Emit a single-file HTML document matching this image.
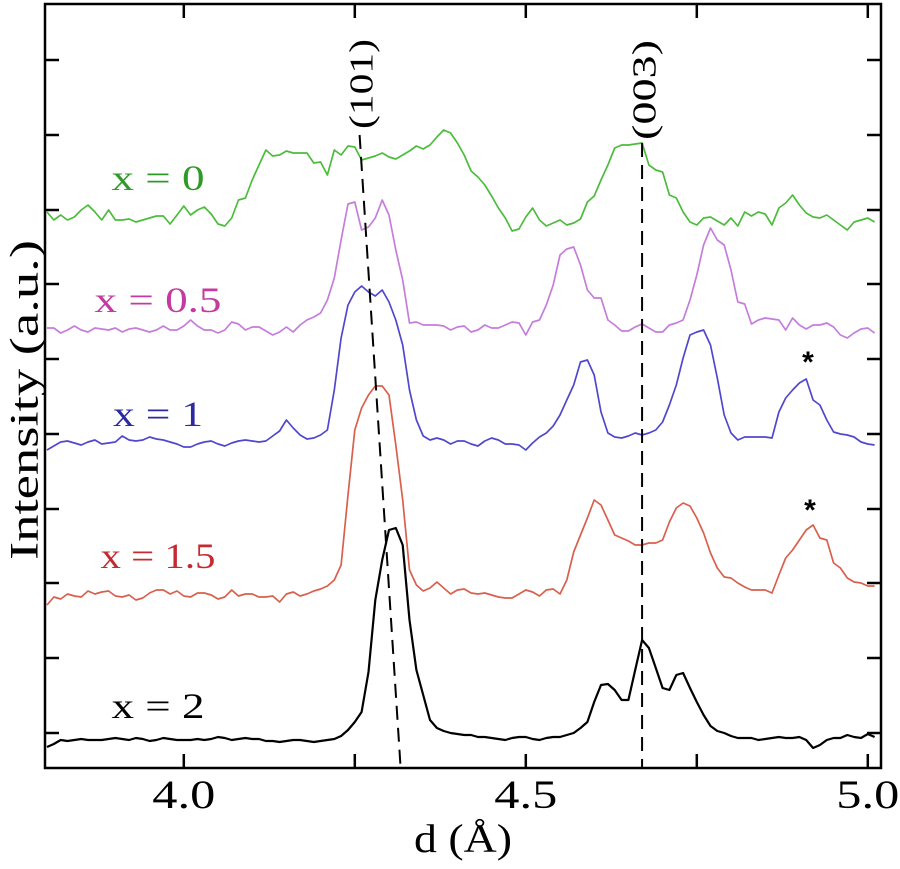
<!DOCTYPE html>
<html><head><meta charset="utf-8"><style>
html,body{margin:0;padding:0;background:#fff;}
svg{display:block;font-family:"Liberation Serif",serif;}
</style></head><body>
<svg id="chart" width="900" height="869" viewBox="0 0 900 869">
<g id="plot"></g>
</svg>
<script>
const dValues = [];
for (let i = 0; i < 122; i++) dValues.push(+(3.80 + i * 0.01).toFixed(2));
const xTicks = [4.0, 4.25, 4.5, 4.75, 5.0];
const xTickLabels = ["4.0", "", "4.5", "", "5.0"];
const yTicks = [35, 110, 185, 259, 334, 409, 484, 558, 633, 708];
const seriesNames = ["x = 0", "x = 0.5", "x = 1", "x = 1.5", "x = 2"];
const seriesX0 = [556,548,553,548,551,558,563,556,548,558,548,548,549,546,548,550,552,552,544,553,562,553,558,561,554,544,542,550,568,570,588,603,618,612,613,617,615,615,615,605,606,593,618,613,622,621,608,610,612,615,611,609,613,617,622,619,623,631,638,635,625,613,597,591,583,572,560,550,537,539,551,560,548,542,545,548,543,545,549,566,572,588,603,620,623,623,624,625,603,598,596,573,570,556,546,543,550,551,547,543,550,542,556,552,556,554,543,560,565,573,563,555,551,550,553,548,543,538,546,548,550,546];
const seriesX05 = [440,440,435,438,442,438,436,440,439,438,440,436,439,440,438,436,438,442,438,438,442,448,442,438,438,435,438,446,444,438,441,441,437,433,436,441,436,443,448,451,455,468,490,528,564,566,538,541,550,568,553,518,488,445,446,443,443,443,442,438,441,442,436,438,443,440,440,443,446,445,433,446,448,463,483,513,519,521,503,478,470,470,448,443,437,437,441,444,440,436,436,443,445,448,468,493,523,540,528,523,498,466,464,444,448,450,449,448,438,450,443,439,443,443,445,441,433,430,435,439,440,435];
const seriesX1 = [318,322,326,327,325,323,326,328,324,325,326,332,328,327,328,331,329,328,326,324,321,321,324,326,327,324,322,325,327,328,327,326,327,332,337,348,340,333,329,330,333,338,378,430,463,476,482,476,472,478,466,448,423,378,348,332,328,330,328,324,327,327,324,322,327,330,328,324,324,323,318,325,331,335,342,353,368,383,406,408,393,356,335,331,330,332,335,333,335,338,346,363,383,410,433,436,438,423,390,353,335,328,331,331,331,331,330,356,370,378,385,389,368,363,348,336,334,333,331,326,324,323];
const seriesX15 = [163,171,169,174,172,171,177,174,176,177,172,171,173,168,170,175,178,178,174,177,172,171,175,175,173,169,171,178,172,174,174,171,171,172,166,174,176,172,174,177,179,182,188,203,273,338,360,373,382,382,373,323,268,198,183,177,180,186,180,174,178,179,175,174,175,173,171,170,170,174,178,176,172,178,179,174,188,216,233,250,268,263,248,233,230,227,223,223,225,225,228,246,260,265,262,250,235,215,200,191,190,185,181,178,178,178,175,193,210,218,228,238,243,230,228,205,200,190,186,185,182,182];
const seriesX2 = [21,24,28,27,28,29,28,28,28,29,30,29,28,30,29,27,28,30,29,28,28,28,29,28,29,31,30,28,29,30,29,29,27,27,26,27,28,28,27,26,27,28,29,32,38,46,56,96,168,208,238,240,223,148,98,73,48,40,37,35,34,33,33,31,31,30,29,28,30,31,31,29,28,30,31,31,33,35,40,46,66,83,84,78,68,68,98,128,120,100,80,78,93,95,80,66,53,42,37,35,32,30,30,30,28,29,30,31,30,30,31,28,20,23,28,30,30,33,31,30,34,31];
const guide101 = [[4.257, 633], [4.317, 0]];
const guide003 = [[4.670, 625], [4.670, 0]];

const L = 45, R = 881, T = 4, B = 768;
function xs(d) { return 47 + (d - 3.80) * 684; }
function ys(v) { return 768 - v; }

const NS = "http://www.w3.org/2000/svg";
const svg = document.getElementById('chart');
const plot = document.getElementById('plot');
function mk(tag, attrs, parent) {
  const e = document.createElementNS(NS, tag);
  for (const k in attrs) e.setAttribute(k, attrs[k]);
  (parent || svg).appendChild(e);
  return e;
}

const series = [
  {v: seriesX0, c: "#4cbc3c", lc: "#2f9a2a", name: "series-x0", lx: 158, ly: 190, w: 93},
  {v: seriesX05, c: "#c57ddc", lc: "#c43aa0", name: "series-x05", lx: 158, ly: 312, w: 127},
  {v: seriesX1, c: "#5048cc", lc: "#2c2aa2", name: "series-x1", lx: 158, ly: 426, w: 90},
  {v: seriesX15, c: "#d8604c", lc: "#c42a30", name: "series-x15", lx: 158, ly: 568, w: 115},
  {v: seriesX2, c: "#000000", lc: "#000000", name: "series-x2", lx: 158, ly: 718, w: 93}
];
series.forEach((s, si) => {
  let d = "";
  s.v.forEach((val, i) => { d += (i ? "L" : "M") + xs(dValues[i]).toFixed(1) + "," + ys(val).toFixed(1); });
  const p = mk('path', {d: d, fill: "none", stroke: s.c, "stroke-width": si === 4 ? 2.2 : 1.7, "stroke-linejoin": "round"}, plot);
  
  
  const t = mk('text', {x: s.lx, y: s.ly, "text-anchor": "middle", "font-size": 36, fill: s.lc, textLength: s.w, lengthAdjust: "spacingAndGlyphs"});
  t.textContent = seriesNames[si];
  
  
});

[guide101, guide003].forEach((g, gi) => {
  const l = mk('line', {x1: xs(g[0][0]), y1: ys(g[0][1]), x2: xs(g[1][0]), y2: ys(g[1][1]), stroke: "#000", "stroke-width": 2, "stroke-dasharray": "14,8"}, plot);
  
  
});
[["(101)", 362, 84, 90], ["(003)", 645, 90, 100]].forEach(a => {
  const t = mk('text', {x: a[1], y: a[2], "text-anchor": "middle", "dominant-baseline": "central", "font-size": 34, textLength: a[3], lengthAdjust: "spacingAndGlyphs", transform: "rotate(-90 " + a[1] + " " + a[2] + ")"});
  t.textContent = a[0];
  
  
});
[[808, 372], [810, 520]].forEach((a, i) => {
  const t = mk('text', {x: a[0], y: a[1], "text-anchor": "middle", "font-size": 30, "font-family": "Liberation Sans, sans-serif", "font-weight": "bold"});
  t.textContent = "*";
  
  
});

const frame = mk('rect', {x: L, y: T, width: R - L, height: B - T, fill: "none", stroke: "#000", "stroke-width": 2.5});



xTicks.forEach((tv, i) => {
  const x = xs(tv);
  const a = mk('line', {x1: x, y1: B, x2: x, y2: B - 14, stroke: "#000", "stroke-width": 2.5});
  
  
  const b = mk('line', {x1: x, y1: T, x2: x, y2: T + 14, stroke: "#000", "stroke-width": 2.5});
  
  
  if (xTickLabels[i]) {
    const t = mk('text', {x: x, y: 808, "text-anchor": "middle", "font-size": 40, textLength: 63, lengthAdjust: "spacingAndGlyphs"});
    t.textContent = xTickLabels[i];
    
    
  }
});
yTicks.forEach(tv => {
  const y = ys(tv);
  const a = mk('line', {x1: L, y1: y, x2: L + 14, y2: y, stroke: "#000", "stroke-width": 2.5});
  
  
  const b = mk('line', {x1: R, y1: y, x2: R - 14, y2: y, stroke: "#000", "stroke-width": 2.5});
  
  
});

const xt = mk('text', {x: 463, y: 852, "text-anchor": "middle", "font-size": 40, textLength: 98, lengthAdjust: "spacingAndGlyphs"});
xt.textContent = "d (Å)";


const yt = mk('text', {x: 24, y: 400, "text-anchor": "middle", "dominant-baseline": "central", "font-size": 40, textLength: 320, lengthAdjust: "spacingAndGlyphs", transform: "rotate(-90 24 400)"});
yt.textContent = "Intensity (a.u.)";


</script>
</body></html>
